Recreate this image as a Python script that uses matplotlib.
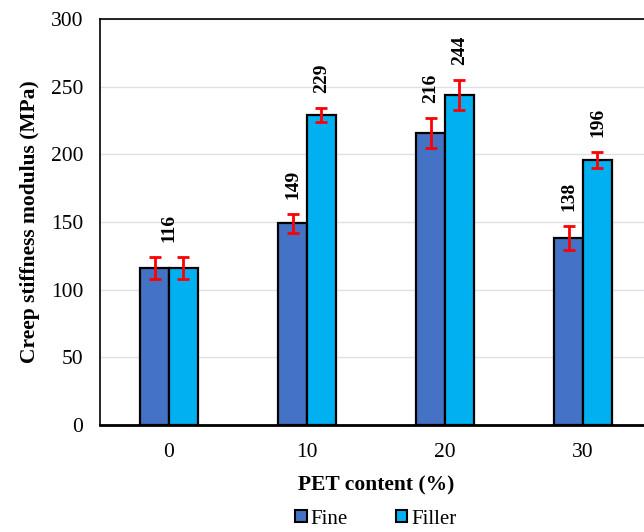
import numpy as np
import matplotlib.pyplot as plt
from matplotlib.patches import Patch

plt.rcParams['font.family'] = ['Liberation Serif', 'DejaVu Serif']

# data
pet = ['0', '10', '20', '30']
fine = [116, 149, 216, 138]
filler = [116, 229, 244, 196]
fine_err = [8, 7, 11, 9]
filler_err = [8, 5, 11, 6]

fig = plt.figure(figsize=(6.44, 5.32), dpi=100)
ax = fig.add_axes([100 / 644, 1 - 425 / 532, 552 / 644, 406 / 532])

x = np.arange(len(pet))
w = 0.21
ax.bar(x - w / 2, fine, w, color='#4472C4', edgecolor='black', linewidth=1.6, zorder=3)
ax.bar(x + w / 2, filler, w, color='#00B0F0', edgecolor='black', linewidth=1.6, zorder=3)
ax.errorbar(x - w / 2, fine, yerr=fine_err, fmt='none', ecolor='red',
            elinewidth=2, capsize=4, capthick=2, zorder=4)
ax.errorbar(x + w / 2, filler, yerr=filler_err, fmt='none', ecolor='red',
            elinewidth=2, capsize=4, capthick=2, zorder=4)

# value labels
off = 11
for i in range(len(pet)):
    if i == 0:
        ax.text(x[i], fine[i] + fine_err[i] + off, str(fine[i]), rotation=90,
                ha='center', va='bottom', fontsize=14, fontweight='bold')
        continue
    ax.text(x[i] - w / 2, fine[i] + fine_err[i] + off, str(fine[i]), rotation=90,
            ha='center', va='bottom', fontsize=14, fontweight='bold')
    ax.text(x[i] + w / 2, filler[i] + filler_err[i] + off, str(filler[i]), rotation=90,
            ha='center', va='bottom', fontsize=14, fontweight='bold')

ax.set_xlim(-0.5, 3.5)
ax.set_ylim(0, 300)
ax.set_yticks(range(0, 301, 50))
ax.set_xticks(x)
ax.set_xticklabels(pet)
ax.tick_params(length=0, labelsize=15.5)
ax.tick_params(axis='y', pad=12)
ax.tick_params(axis='x', pad=13)
ax.grid(axis='y', color='#dde1e6', linewidth=1, zorder=0)
ax.set_axisbelow(True)
for s in ['left', 'top']:
    ax.spines[s].set_linewidth(1.2)
ax.spines['bottom'].set_linewidth(2)
ax.spines['right'].set_visible(False)

ax.set_ylabel('Creep stiffness modulus (MPa)', fontsize=15.5, fontweight='bold', labelpad=8)
ax.set_xlabel('PET content (%)', fontsize=15.5, fontweight='bold', labelpad=10)

handles = [Patch(facecolor='#4472C4', edgecolor='black', linewidth=1.5, label='Fine'),
           Patch(facecolor='#00B0F0', edgecolor='black', linewidth=1.5, label='Filler')]
fig.legend(handles=handles, loc='center', bbox_to_anchor=(376 / 644, 1 - 519 / 532),
           ncol=2, frameon=False, fontsize=15, handlelength=0.55, handleheight=0.55,
           handletextpad=0.2, columnspacing=2.3, borderpad=0)

fig.savefig('out.png', dpi=100)
